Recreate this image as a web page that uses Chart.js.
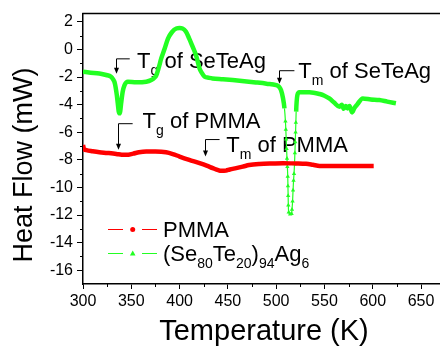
<!DOCTYPE html>
<html>
<head>
<meta charset="utf-8">
<title>DSC</title>
<script src="https://cdn.jsdelivr.net/npm/chart.js@4.4.0/dist/chart.umd.min.js"></script>
<style>
  html, body { margin: 0; padding: 0; background: #fff; overflow: hidden; }
  #wrap { width: 440px; height: 347px; overflow: hidden; }
</style>
</head>
<body>
<div id="wrap"><canvas id="chart" width="460" height="347"></canvas></div>
<script>
// PMMA curve
const pmmaT = [300, 301, 303.5, 310, 317, 325, 334.5, 340, 345, 352, 358, 365.5, 375, 386, 393, 400, 410, 420.7, 428, 434.4,
  440, 443, 448, 452, 458.6, 466, 472, 482.7, 495, 507, 520, 531, 538, 545, 560, 575, 590, 601];
const pmmaHF = [-6.92, -7.2, -7.3, -7.38, -7.45, -7.5, -7.57, -7.63, -7.64, -7.55, -7.45, -7.4, -7.4, -7.45, -7.58, -7.76, -8.0, -8.24, -8.42, -8.6,
  -8.75, -8.8, -8.78, -8.7, -8.6, -8.48, -8.38, -8.3, -8.26, -8.24, -8.26, -8.29, -8.36, -8.44, -8.45, -8.44, -8.45, -8.44];

// (Se80Te20)94Ag6 curve
const alloyT = [300, 308, 317, 324, 329, 331, 333, 335, 336, 337, 338, 339.7, 341, 343, 346.5, 355, 365.5, 370.7, 374, 376,
  378.5, 381, 384.5, 388, 392, 396.6, 400, 403, 406.5, 410, 413.5, 417, 420.7, 423, 426, 430, 434, 445, 455, 467,
  479, 490, 500, 503, 505, 507, 508.6, 509.6, 510, 510.4, 510.8, 511.2, 511.6, 512, 512.2, 512.4, 512.6, 513, 514.5, 516,
  516.4, 517, 517.5, 518, 518.5, 519, 519.4, 519.8, 520.1, 520.4, 520.7, 521.2, 522, 524, 534.4, 545, 550, 555, 560, 565.5,
  568, 570, 572, 574, 576, 578.6, 581, 584, 589.6, 598, 606.8, 615, 624];
const alloyHF = [-1.62, -1.68, -1.74, -1.85, -1.98, -2.15, -2.46, -3.3, -3.9, -4.5, -4.63, -3.78, -3.1, -2.58, -2.34, -2.38, -2.34, -2.22, -2.05, -1.85,
  -1.3, -0.65, 0.05, 0.79, 1.25, 1.52, 1.55, 1.52, 1.3, 0.79, 0.2, -0.41, -1.38, -1.7, -1.98, -2.05, -2.1, -2.16, -2.22, -2.3,
  -2.39, -2.48, -2.58, -2.7, -2.94, -3.5, -4.27, -5.2, -5.8, -6.5, -7.2, -7.9, -8.5, -9.2, -9.9, -10.6, -11.3, -11.8, -11.95, -11.9,
  -11.6, -11.0, -10.2, -9.5, -9.0, -8.3, -7.5, -6.7, -6.0, -5.3, -4.5, -3.8, -3.3, -3.1, -3.1, -3.23, -3.35, -3.55, -3.85, -4.15,
  -4.0, -4.3, -4.1, -4.27, -4.1, -4.56, -4.25, -3.98, -3.55, -3.62, -3.67, -3.78, -3.9];

const xTicks = [300, 350, 400, 450, 500, 550, 600, 650];
const yTicks = [-16, -14, -12, -10, -8, -6, -4, -2, 0, 2];

const FONT = '"Liberation Sans", Arial, sans-serif';
const RED = '#ff0000';
const GREEN = '#22ff22';

// text with subscripts: parts = [[text, isSub], ...]
function rich(ctx, parts, x, y, size, subSize, drop) {
  for (const [t, sub] of parts) {
    ctx.font = (sub ? subSize : size) + 'px ' + FONT;
    ctx.fillText(t, x, sub ? y + drop : y);
    x += ctx.measureText(t).width;
  }
}

// arrow labels, in data units
const notes = [
  { x: 334, top: -0.68, tip: -1.76, hook: 348.4, tx: 356, ty: -1.37, parts: [['T', 0], ['g', 1], [' of SeTeAg', 0]] },
  { x: 502.8, top: -1.54, tip: -2.48, hook: 518.9, tx: 523, ty: -2.1, parts: [['T', 0], ['m', 1], [' of SeTeAg', 0]] },
  { x: 336.2, top: -5.38, tip: -7.26, hook: 351.4, tx: 361.7, ty: -5.66, parts: [['T', 0], ['g', 1], [' of PMMA', 0]] },
  { x: 425.9, top: -6.53, tip: -7.76, hook: 441.4, tx: 448.3, ty: -7.4, parts: [['T', 0], ['m', 1], [' of PMMA', 0]] }
];

const decor = {
  id: 'decor',
  beforeDatasetsDraw(chart) {
    const { ctx, chartArea: a, scales: { x, y } } = chart;
    ctx.save();
    ctx.strokeStyle = '#000';
    ctx.fillStyle = '#000';

    // top frame line
    ctx.lineWidth = 1.5;
    ctx.beginPath();
    ctx.moveTo(a.left - 0.75, a.top);
    ctx.lineTo(a.right, a.top);
    ctx.stroke();

    // minor ticks
    ctx.lineWidth = 1;
    ctx.beginPath();
    xTicks.forEach(v => {
      const px = Math.round(x.getPixelForValue(v + 25)) + 0.5;
      ctx.moveTo(px, a.bottom);
      ctx.lineTo(px, a.bottom + 3);
    });
    [-17, ...yTicks].forEach(v => {
      const val = v + 1;
      if (val > y.max) return;
      const py = Math.round(y.getPixelForValue(val)) + 0.5;
      ctx.moveTo(a.left, py);
      ctx.lineTo(a.left - 3, py);
    });
    ctx.stroke();

    // annotations
    notes.forEach(n => {
      const ax = Math.round(x.getPixelForValue(n.x)) + 0.5;
      const ay0 = y.getPixelForValue(n.top);
      const ay1 = y.getPixelForValue(n.tip);
      const hx = x.getPixelForValue(n.hook);
      ctx.lineWidth = 1;
      ctx.beginPath();
      ctx.moveTo(hx, ay0);
      ctx.lineTo(ax, ay0);
      ctx.lineTo(ax, ay1 - 5);
      ctx.stroke();
      ctx.beginPath();
      ctx.moveTo(ax - 2.5, ay1 - 6);
      ctx.lineTo(ax + 2.5, ay1 - 6);
      ctx.lineTo(ax, ay1);
      ctx.closePath();
      ctx.fill();
      ctx.textBaseline = 'alphabetic';
      ctx.textAlign = 'left';
      rich(ctx, n.parts, x.getPixelForValue(n.tx), y.getPixelForValue(n.ty), 22, 14, 7);
    });

    // axis titles
    ctx.font = '27px ' + FONT;
    ctx.textAlign = 'center';
    ctx.textBaseline = 'middle';
    ctx.save();
    ctx.translate(25, 165);
    ctx.rotate(-Math.PI / 2);
    ctx.fillText('Heat Flow (mW)', 0, 0);
    ctx.restore();
    ctx.font = '29px ' + FONT;
    ctx.textBaseline = 'alphabetic';
    ctx.fillText('Temperature (K)', 264, 340);

    // legend
    const rows = [
      { c: RED, yy: 229, mark: 'dot', parts: [['PMMA', 0]] },
      { c: GREEN, yy: 253, mark: 'tri', parts: [['(Se', 0], ['80', 1], ['Te', 0], ['20', 1], [')', 0], ['94', 1], ['Ag', 0], ['6', 1]] }
    ];
    rows.forEach(r => {
      ctx.strokeStyle = r.c;
      ctx.fillStyle = r.c;
      ctx.lineWidth = 1;
      ctx.beginPath();
      ctx.moveTo(108, r.yy + 0.5); ctx.lineTo(123, r.yy + 0.5);
      ctx.moveTo(142, r.yy + 0.5); ctx.lineTo(157, r.yy + 0.5);
      ctx.stroke();
      ctx.beginPath();
      if (r.mark === 'dot') {
        ctx.arc(132.7, r.yy + 0.5, 2.5, 0, Math.PI * 2);
      } else {
        ctx.moveTo(132.7, r.yy - 2.5);
        ctx.lineTo(135.5, r.yy + 2.5);
        ctx.lineTo(129.9, r.yy + 2.5);
        ctx.closePath();
      }
      ctx.fill();
      ctx.fillStyle = '#000';
      ctx.textAlign = 'left';
      rich(ctx, r.parts, 163, r.yy + 7.5, 22, 14, 7);
    });

    ctx.restore();
  }
};

const inDip = p => p && p.x > 505 && p.y < -4.8;

new Chart(document.getElementById('chart'), {
  type: 'scatter',
  data: {
    datasets: [
      {
        label: 'PMMA',
        data: pmmaT.map((t, i) => ({ x: t, y: pmmaHF[i] })),
        showLine: true,
        borderColor: RED,
        backgroundColor: RED,
        borderWidth: 4.5,
        pointRadius: 0,
        cubicInterpolationMode: 'monotone'
      },
      {
        label: '(Se80Te20)94Ag6',
        data: alloyT.map((t, i) => ({ x: t, y: alloyHF[i] })),
        showLine: true,
        borderColor: GREEN,
        backgroundColor: GREEN,
        borderWidth: 4.5,
        pointStyle: 'triangle',
        pointRadius: ctx => inDip(ctx.raw) ? 2.5 : 0,
        pointBorderWidth: 0,
        cubicInterpolationMode: 'monotone',
        segment: {
          borderWidth: ctx => (ctx.p0.parsed.x > 505 && Math.min(ctx.p0.parsed.y, ctx.p1.parsed.y) < -4.6) ? 1.2 : 4.5
        }
      }
    ]
  },
  options: {
    responsive: false,
    animation: false,
    layout: { padding: { left: 0, top: 12, right: 10, bottom: 0 } },
    plugins: { legend: { display: false }, tooltip: { enabled: false } },
    scales: {
      x: {
        type: 'linear',
        min: 300,
        max: 680,
        afterBuildTicks: s => { s.ticks = xTicks.map(v => ({ value: v })); },
        afterFit: s => { s.height = 63; },
        grid: { drawOnChartArea: false, tickLength: 5, tickColor: '#000', tickWidth: 1 },
        border: { color: '#000', width: 1.5 },
        ticks: { autoSkip: false, maxRotation: 0, padding: 3, color: '#000', font: { size: 16, family: FONT } }
      },
      y: {
        min: -17,
        max: 2.6,
        afterBuildTicks: s => { s.ticks = yTicks.map(v => ({ value: v })); },
        afterFit: s => { s.width = 83; },
        grid: { drawOnChartArea: false, tickLength: 6, tickColor: '#000', tickWidth: 1 },
        border: { color: '#000', width: 1.5 },
        ticks: { autoSkip: false, padding: 4, color: '#000', font: { size: 16, family: FONT } }
      }
    }
  },
  plugins: [decor]
});
</script>
</body>
</html>
